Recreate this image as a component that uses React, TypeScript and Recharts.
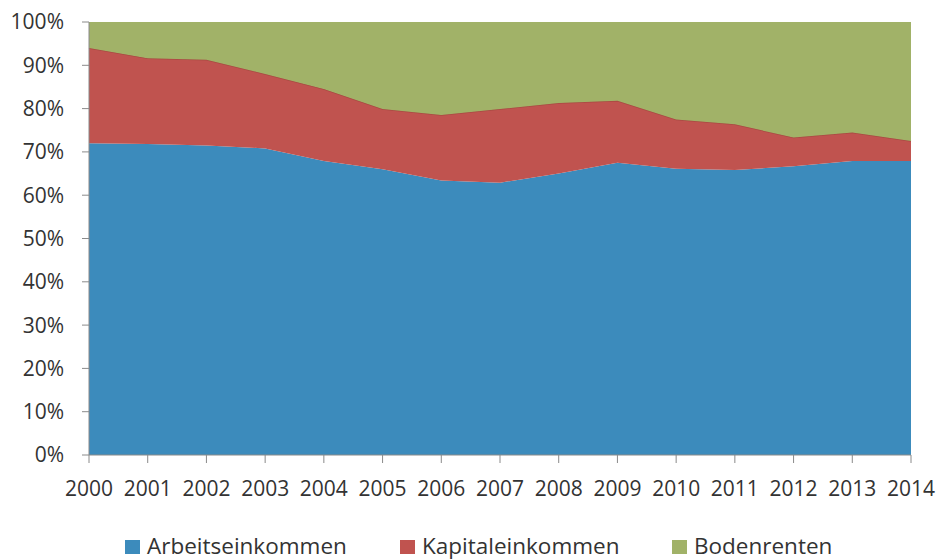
import React from 'react';
import { AreaChart, Area, XAxis, YAxis, Legend } from 'recharts';

const years = ['2000','2001','2002','2003','2004','2005','2006','2007','2008','2009','2010','2011','2012','2013','2014'];
const arbeit = [72.0, 71.8, 71.5, 70.8, 67.9, 66.0, 63.4, 62.9, 65.0, 67.5, 66.1, 65.8, 66.7, 67.9, 67.9];
const kapital = [22.0, 19.8, 19.8, 17.2, 16.6, 13.9, 15.1, 17.0, 16.3, 14.3, 11.4, 10.6, 6.6, 6.6, 4.6];
const boden = [6.0, 8.4, 8.7, 12.0, 15.5, 20.1, 21.5, 20.1, 18.7, 18.2, 22.5, 23.6, 26.7, 25.5, 27.5];
const yTicks = [0, 10, 20, 30, 40, 50, 60, 70, 80, 90, 100];

const seriesNames = ['Arbeitseinkommen', 'Kapitaleinkommen', 'Bodenrenten'];
const colors = ['#3C8BBC', '#C0534F', '#A1B268'];
const legendLeft = [125, 400, 672];

const data = years.map((y, i) => ({
  year: y,
  a: arbeit[i],
  k: kapital[i],
  b: boden[i],
}));

const FONT = "'Open Sans', 'Liberation Sans', sans-serif";

const LegendContent = () => (
  <div style={{ position: 'relative', width: 941, height: 30, fontFamily: FONT, fontSize: 22.5, color: '#333' }}>
    {seriesNames.map((n, i) => (
      <div key={n} style={{ position: 'absolute', left: legendLeft[i], top: 0, height: 30, display: 'flex', alignItems: 'center', whiteSpace: 'nowrap' }}>
        <span style={{ display: 'inline-block', width: 15, height: 14, background: colors[i], marginRight: 7, marginTop: 3 }} />
        <span>{n}</span>
      </div>
    ))}
  </div>
);

export default function App() {
  return (
    <div style={{ position: 'absolute', left: 0, top: 0, width: 941, height: 560, background: '#fff' }}>
      <AreaChart width={941} height={560} data={data} margin={{ top: 22, right: 30, left: 0, bottom: 0 }}>
        <XAxis
          dataKey="year"
          height={75}
          tickSize={8}
          tickMargin={18}
          interval={0}
          stroke="#8a8a8a"
          tick={{ fill: '#333', fontSize: 21, fontFamily: FONT }}
        />
        <YAxis
          width={89}
          domain={[0, 100]}
          ticks={yTicks}
          tickFormatter={(v) => `${v}%`}
          tickSize={7}
          tickMargin={18}
          interval={0}
          stroke="#8a8a8a"
          tick={{ fill: '#333', fontSize: 21, fontFamily: FONT }}
        />
        <Area type="linear" dataKey="a" name={seriesNames[0]} stackId="1" fill={colors[0]} fillOpacity={1} stroke="none" isAnimationActive={false} />
        <Area type="linear" dataKey="k" name={seriesNames[1]} stackId="1" fill={colors[1]} fillOpacity={1} stroke="#A84A42" strokeWidth={1.5} isAnimationActive={false} />
        <Area type="linear" dataKey="b" name={seriesNames[2]} stackId="1" fill={colors[2]} fillOpacity={1} stroke="none" isAnimationActive={false} />
        <Legend verticalAlign="bottom" wrapperStyle={{ left: 0, width: 941, bottom: 0 }} content={LegendContent} />
      </AreaChart>
    </div>
  );
}
